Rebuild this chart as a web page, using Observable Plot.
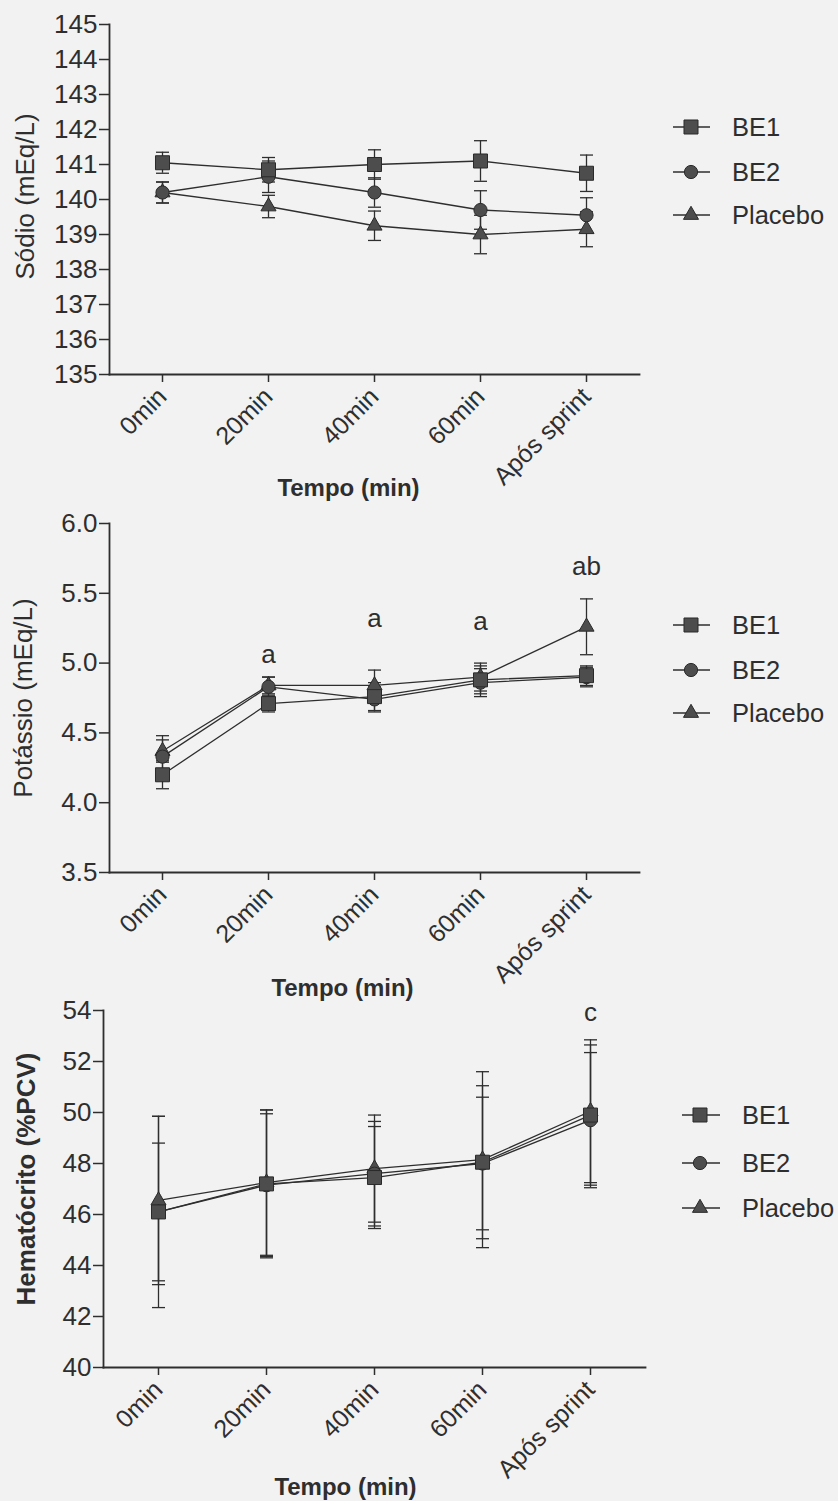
<!DOCTYPE html>
<html>
<head>
<meta charset="utf-8">
<script src="https://cdn.jsdelivr.net/npm/d3@7"></script>
<script src="https://cdn.jsdelivr.net/npm/@observablehq/plot@0.6"></script>
<style>
  body { margin: 0; background: #f2f2f2; }
  #root { position: relative; width: 838px; height: 1501px; font-family: "Liberation Sans", Arial, sans-serif; color: #2e2e2e; }
  .panel { position: absolute; left: 0; }
  .legend { position: absolute; left: 0; pointer-events: none; overflow: visible; }
</style>
</head>
<body>
<div id="root"></div>
<script>
// ---------- data ----------
const times = ["0min", "20min", "40min", "60min", "Após sprint"];
const groups = ["BE1", "BE2", "Placebo"];

// Sódio (mEq/L)
const sodioBE1 = [141.05, 140.85, 141.0, 141.1, 140.75];
const sodioBE1Err = [0.3, 0.35, 0.42, 0.58, 0.52];
const sodioBE2 = [140.2, 140.65, 140.2, 139.7, 139.55];
const sodioBE2Err = [0.3, 0.45, 0.42, 0.55, 0.5];
const sodioPla = [140.2, 139.8, 139.25, 139.0, 139.15];
const sodioPlaErr = [0.3, 0.32, 0.42, 0.55, 0.5];
const sodioTicks = [135, 136, 137, 138, 139, 140, 141, 142, 143, 144, 145];
const sodioAnn = [];

// Potássio (mEq/L)
const potBE1 = [4.2, 4.71, 4.76, 4.88, 4.91];
const potBE1Err = [0.1, 0.06, 0.1, 0.1, 0.07];
const potBE2 = [4.33, 4.83, 4.74, 4.86, 4.9];
const potBE2Err = [0.15, 0.07, 0.09, 0.1, 0.07];
const potPla = [4.37, 4.84, 4.84, 4.9, 5.26];
const potPlaErr = [0.08, 0.06, 0.11, 0.1, 0.2];
const potTicks = [3.5, 4.0, 4.5, 5.0, 5.5, 6.0];
const potAnnTimes = ["20min", "40min", "60min", "Após sprint"];
const potAnnY = [5.06, 5.32, 5.3, 5.69];
const potAnnLabels = ["a", "a", "a", "ab"];

// Hematócrito (%PCV)
const hemBE1 = [46.1, 47.2, 47.45, 48.05, 49.9];
const hemBE1Err = [3.75, 2.9, 2.0, 3.0, 2.75];
const hemBE2 = [46.1, 47.15, 47.6, 48.0, 49.7];
const hemBE2Err = [2.7, 2.8, 2.05, 2.6, 2.65];
const hemPla = [46.55, 47.25, 47.8, 48.15, 50.05];
const hemPlaErr = [3.3, 2.85, 2.1, 3.45, 2.8];
const hemTicks = [40, 42, 44, 46, 48, 50, 52, 54];
const hemAnnTimes = ["Após sprint"];
const hemAnnY = [53.9];
const hemAnnLabels = ["c"];

// ---------- helpers ----------
const ink = "#2e2e2e";
const font = "'Liberation Sans', Arial, sans-serif";
const symbols = {BE1: "square", BE2: "circle", Placebo: "triangle"};
const d3symbols = {BE1: d3.symbolSquare, BE2: d3.symbolCircle, Placebo: d3.symbolTriangle};
const radii = {BE1: 7.9, BE2: 6.6, Placebo: 5.6};
const capSymbol = {draw(context) { context.moveTo(-6.5, 0); context.lineTo(6.5, 0); }};

function rowsOf(series) {
  const out = [];
  series.forEach(([group, vals, errs]) => {
    vals.forEach((v, i) => out.push({time: times[i], group, v, e: errs[i]}));
  });
  return out;
}
function annOf(ts, ys, labels) {
  return ts.map((t, i) => ({time: t, y: ys[i], label: labels[i]}));
}

const root = document.getElementById("root");

function panel(cfg) {
  const rows = rowsOf(cfg.series);
  const lo = d => d.v - d.e, hi = d => d.v + d.e;
  const chart = Plot.plot({
    width: 838,
    height: cfg.height,
    marginTop: cfg.mt, marginBottom: cfg.mb, marginLeft: cfg.ml, marginRight: cfg.mr,
    style: {background: "transparent", fontFamily: font, fontSize: "26px", color: ink, overflow: "visible"},
    x: {type: "point", domain: times, padding: 0.5, label: null},
    y: {domain: cfg.domain, label: null},
    marks: [
      Plot.frame({anchor: "left", stroke: ink, strokeWidth: 1.8}),
      Plot.frame({anchor: "bottom", stroke: ink, strokeWidth: 1.8}),
      Plot.axisY({ticks: cfg.ticks, tickFormat: cfg.fmt, tickSize: 10, tickPadding: 2, label: null, stroke: ink, strokeWidth: 1.5, fontSize: 26}),
      Plot.axisX({tickSize: 8, tickRotate: -45, tickPadding: 10, label: null, stroke: ink, strokeWidth: 1.5, fontSize: 25}),
      Plot.ruleX(rows, {x: "time", y1: lo, y2: hi, stroke: ink, strokeWidth: 1.3}),
      Plot.dot(rows, {x: "time", y: lo, symbol: capSymbol, fill: "none", stroke: ink, strokeWidth: 1.3}),
      Plot.dot(rows, {x: "time", y: hi, symbol: capSymbol, fill: "none", stroke: ink, strokeWidth: 1.3}),
      Plot.line(rows, {x: "time", y: "v", z: "group", stroke: ink, strokeWidth: 1.3}),
      ...["Placebo", "BE2", "BE1"].map(g => Plot.dot(rows.filter(d => d.group === g), {
        x: "time", y: "v", symbol: symbols[g], r: radii[g], fill: "#4d4d4d", stroke: "#2a2a2a", strokeWidth: 1
      })),
      Plot.text(cfg.ann, {x: "time", y: "y", text: "label", fontSize: 26, fill: ink}),
      Plot.text([cfg.ylabel], {text: d => d, frameAnchor: "left", textAnchor: "middle", lineAnchor: "middle", rotate: -90, dx: cfg.ydx, dy: cfg.ydy, fontSize: 26, fontWeight: cfg.ybold ? "bold" : "normal", fill: ink}),
      Plot.text(["Tempo (min)"], {text: d => d, frameAnchor: "bottom", textAnchor: "middle", lineAnchor: "middle", dx: cfg.tdx, dy: cfg.tdy, fontSize: 24, fontWeight: "bold", fill: ink})
    ]
  });
  const wrap = document.createElement("div");
  wrap.className = "panel";
  wrap.style.top = cfg.top + "px";
  wrap.appendChild(chart);
  root.appendChild(wrap);

  // legend
  const lg = d3.select(root).append("svg").attr("class", "legend")
    .style("top", cfg.top + "px").attr("width", 838).attr("height", cfg.height);
  groups.forEach((g, i) => {
    const y = cfg.legY[i] - cfg.top;
    lg.append("line").attr("x1", cfg.legX[0]).attr("x2", cfg.legX[1]).attr("y1", y).attr("y2", y)
      .attr("stroke", ink).attr("stroke-width", 1.3);
    lg.append("path").attr("transform", `translate(${cfg.legX[2]},${y})`)
      .attr("d", d3.symbol(d3symbols[g], Math.PI * radii[g] * radii[g])())
      .attr("fill", "#4d4d4d").attr("stroke", "#2a2a2a").attr("stroke-width", 1);
    lg.append("text").attr("x", cfg.legX[3]).attr("y", y).attr("dy", "0.35em")
      .attr("font-size", 25.5).attr("font-family", font)
      .attr("fill", ink).text(g);
  });
}

panel({
  series: [["BE1", sodioBE1, sodioBE1Err], ["BE2", sodioBE2, sodioBE2Err], ["Placebo", sodioPla, sodioPlaErr]],
  domain: [135, 145], ticks: sodioTicks, fmt: d3.format("d"), ann: sodioAnn,
  top: 0, height: 500, mt: 24, mb: 126, ml: 109, mr: 199,
  ylabel: "Sódio (mEq/L)", ybold: false, ydx: -84, ydy: -3, tdx: -26, tdy: 114,
  legY: [127, 172, 215], legX: [673, 710, 691, 732]
});
panel({
  series: [["BE1", potBE1, potBE1Err], ["BE2", potBE2, potBE2Err], ["Placebo", potPla, potPlaErr]],
  domain: [3.5, 6.0], ticks: potTicks, fmt: d3.format(".1f"), ann: annOf(potAnnTimes, potAnnY, potAnnLabels),
  top: 500, height: 500, mt: 23, mb: 128, ml: 109, mr: 199,
  ylabel: "Potássio (mEq/L)", ybold: false, ydx: -86, ydy: 0, tdx: -32, tdy: 116,
  legY: [625, 670, 713], legX: [673, 710, 691, 732]
});
panel({
  series: [["BE1", hemBE1, hemBE1Err], ["BE2", hemBE2, hemBE2Err], ["Placebo", hemPla, hemPlaErr]],
  domain: [40, 54], ticks: hemTicks, fmt: d3.format("d"), ann: annOf(hemAnnTimes, hemAnnY, hemAnnLabels),
  top: 1000, height: 501, mt: 10, mb: 134, ml: 103, mr: 193,
  ylabel: "Hematócrito (%PCV)", ybold: true, ydx: -77, ydy: -10, tdx: -29, tdy: 120,
  legY: [1115, 1163, 1208], legX: [682, 720, 700, 742]
});
</script>
</body>
</html>
